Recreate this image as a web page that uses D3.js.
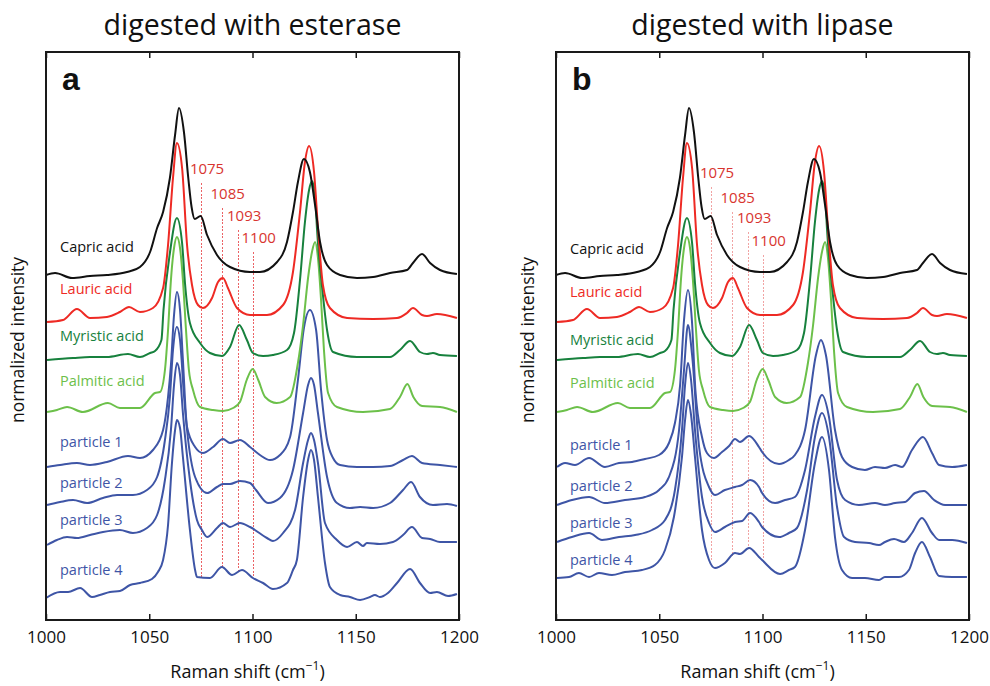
<!DOCTYPE html>
<html><head><meta charset="utf-8">
<script src="https://cdn.jsdelivr.net/npm/d3@7"></script>
<style>body{margin:0;background:#fff}svg text{font-family:'Open Sans',sans-serif}</style>
</head><body><svg id="c" width="990" height="686"></svg>
<script>
// ---------- data ----------
const xTicks = [1000, 1050, 1100, 1150, 1200];
const markerPositions = [1075, 1085, 1093, 1100];
const markerLabels = ["1075", "1085", "1093", "1100"];
const panelTitles = ["digested with esterase", "digested with lipase"];
const panelLetters = ["a", "b"];
const standardNames = ["Capric acid", "Lauric acid", "Myristic acid", "Palmitic acid"];
const particleNames = ["particle 1", "particle 2", "particle 3", "particle 4"];

// [Raman shift (cm-1), stacked normalized intensity]
const capric = [[1000,34.5],[1004.4,34.7],[1012.6,34.2],[1021.3,34.4],[1029.5,34.5],[1039.2,34.8],[1045.5,35.3],[1050.4,36.8],[1053.8,39.2],[1056.7,40.8],[1060,44.2],[1062.5,48.5],[1064.4,51.2],[1066.8,48.8],[1068.9,44.2],[1070.5,41.3],[1072,40.1],[1074.9,40.4],[1078,38.5],[1082.8,36.5],[1089.1,35.3],[1098.8,34.8],[1103.6,34.8],[1111.9,35.8],[1116.7,37.8],[1119.6,40.8],[1122,43.8],[1124.9,46.1],[1127.8,44.8],[1130.3,41.5],[1132.7,37.8],[1136.1,35.5],[1142.4,34.5],[1150.6,34.2],[1158.4,34.3],[1166.6,34.7],[1174.8,35.0],[1177.7,35.7],[1182.1,36.6],[1186,35.7],[1190.8,35.0],[1199,34.6]];
const lauric = [[1000.5,29.8],[1008.2,30.0],[1015,31.1],[1021.3,30.2],[1029.5,30.3],[1035.8,30.8],[1040.2,31.3],[1045.5,30.8],[1051.8,31.2],[1056.7,33.2],[1059.1,37.5],[1061.5,44.2],[1063.4,47.7],[1065.9,45.2],[1068.3,37.5],[1070.7,33.5],[1073.6,31.5],[1076,31.2],[1080.4,32.2],[1083.3,33.8],[1085.7,34.2],[1088.1,33.2],[1092.5,31.2],[1098.8,30.5],[1107,30.5],[1114.8,31.5],[1119.6,34.8],[1123,40.8],[1125.4,45.8],[1127.4,47.4],[1129.8,44.8],[1131.7,39.2],[1134.1,33.5],[1137.5,31.2],[1145.8,30.2],[1158.4,30.1],[1170,30.2],[1174.8,30.7],[1177.7,31.2],[1182.1,30.5],[1184.5,30.4],[1189.3,30.6],[1199,30.2]];
const myristic = [[1000.5,26.0],[1013.1,26.2],[1021.3,26.3],[1029.5,26.3],[1039.7,26.6],[1045.5,26.3],[1050.4,26.7],[1052.8,26.9],[1055.9,28.0],[1056.9,31.0],[1060,36.7],[1063.4,40.2],[1065.9,37.7],[1067.3,33.7],[1069.7,29.7],[1074.6,27.7],[1079.4,26.7],[1085.2,26.4],[1089.1,27.3],[1093.5,29.5],[1097.3,28.0],[1100.2,26.7],[1105.1,26.4],[1109.9,26.5],[1116.7,27.0],[1120.1,28.7],[1123,34.0],[1125.4,39.8],[1127.4,43.0],[1128.8,43.9],[1130.3,42.5],[1131.2,39.2],[1134.1,32.5],[1136.1,29.0],[1139,26.8],[1150.6,26.3],[1166.6,26.3],[1171.4,27.0],[1176.3,27.9],[1181.1,26.8],[1184.5,26.6],[1187.4,26.7],[1190.8,26.5],[1199,26.4]];
const palmitic = [[1000.5,20.8],[1005.3,21.0],[1010.2,21.3],[1017.9,20.8],[1030,21.7],[1035.8,21.2],[1045.5,21.2],[1052.8,22.7],[1055.2,22.8],[1057.6,25.0],[1059.1,29.0],[1060.5,34.0],[1062,37.2],[1063.4,38.3],[1064.9,37.2],[1066.3,34.0],[1067.8,29.0],[1069.2,25.0],[1071.2,23.0],[1074.6,21.3],[1080.9,21.0],[1085.7,20.9],[1090.6,21.2],[1093.9,21.8],[1097.2,24.0],[1100.1,25.1],[1102.8,24.0],[1106.1,22.3],[1111.7,21.7],[1118.2,22.3],[1122,25.7],[1124.5,29.5],[1126.9,34.2],[1128.8,36.8],[1130.3,37.8],[1131.7,36.2],[1133.2,32.0],[1134.6,27.0],[1136.6,22.7],[1140.9,21.3],[1153.5,20.8],[1166.6,21.1],[1171.4,22.3],[1175,23.6],[1177.9,22.3],[1182.1,21.4],[1190.8,21.3],[1199,20.8]];

const esteraseP1 = [[1000.5,15.3],[1006.8,15.5],[1015,15.7],[1021.3,15.5],[1029.5,15.8],[1039.7,16.4],[1045.5,16.2],[1051.8,17.0],[1056.7,19.0],[1059.1,22.3],[1060.5,25.5],[1062,30.5],[1063.4,32.8],[1064.9,31.0],[1066.3,26.0],[1068.3,19.3],[1072.2,17.3],[1076,16.7],[1080.9,17.3],[1085.7,18.1],[1089.1,17.7],[1093.9,18.0],[1098.8,17.3],[1103.6,16.5],[1108.5,16.0],[1113.3,16.5],[1118.2,18.3],[1122,24.0],[1124.9,29.2],[1127.8,31.0],[1130.8,29.0],[1133.2,23.0],[1136.1,18.0],[1139,16.2],[1142.4,15.5],[1150.6,15.3],[1158.4,15.3],[1166.6,15.4],[1172.9,16.0],[1177.2,16.4],[1182.1,15.7],[1190.8,15.5],[1199,15.3]];
const esteraseP2 = [[1000.5,11.5],[1006.8,11.8],[1013.1,12.0],[1019.9,11.7],[1027.6,12.2],[1034.4,12.5],[1042.1,12.5],[1048.9,13.0],[1053.8,14.3],[1057.6,18.0],[1060,22.3],[1061.5,27.0],[1063.4,29.3],[1064.9,28.0],[1066.8,22.5],[1068.3,19.0],[1072.2,14.3],[1078,12.7],[1082.8,13.3],[1085.7,13.6],[1089.1,13.6],[1093.9,13.9],[1098.8,13.7],[1101.7,13.0],[1107.5,11.7],[1113.3,12.2],[1119.6,15.0],[1124.5,20.7],[1126.9,23.5],[1128.3,24.2],[1129.8,23.5],[1131.7,20.7],[1136.1,14.3],[1140.9,11.7],[1147.2,11.2],[1152.1,11.3],[1158.4,11.2],[1166.6,11.7],[1172.9,13.0],[1176.8,13.8],[1181.1,12.3],[1187.4,11.5],[1194.2,11.6],[1199,11.4]];
const esteraseP3 = [[1000.5,7.5],[1005.3,8.0],[1010.2,8.3],[1015,8.2],[1021.3,8.5],[1027.6,8.8],[1035.8,9.0],[1042.1,8.7],[1048.9,9.2],[1053.8,10.5],[1057.6,14.0],[1060.5,19.0],[1062,23.5],[1063.4,25.7],[1064.9,24.5],[1066.3,20.7],[1069.7,14.0],[1073.1,10.0],[1075.5,9.0],[1078,8.3],[1082.8,9.2],[1085.7,9.7],[1089.1,9.3],[1093.9,9.7],[1098.8,9.3],[1107,8.2],[1109.9,7.9],[1114.8,8.7],[1120.6,11.0],[1124.5,15.7],[1126.9,18.0],[1128.3,18.7],[1129.8,18.0],[1131.7,15.7],[1135.1,9.7],[1140.9,8.0],[1145.8,7.3],[1150.6,7.8],[1153.5,7.4],[1155.4,7.7],[1161.7,7.6],[1168,7.8],[1172.9,8.5],[1177.2,9.3],[1182.1,8.2],[1186,8.1],[1190.8,7.8],[1199,7.8]];
const esteraseP4 = [[1000,2.2],[1006.8,2.8],[1010.7,2.8],[1016.5,3.2],[1022.3,2.3],[1026.1,2.5],[1031,2.8],[1035.8,2.9],[1040.7,3.5],[1045.5,3.7],[1051.3,4.1],[1054.2,4.8],[1056.7,6.0],[1059.1,9.5],[1061,15.7],[1062.5,19.0],[1063.4,20.0],[1064.9,19.2],[1066.3,16.3],[1069.7,9.0],[1072.2,5.0],[1073.1,4.3],[1079.4,4.2],[1085.2,5.3],[1090.1,4.5],[1094.9,5.0],[1100.2,4.2],[1105.1,3.7],[1109.9,3.1],[1116.7,3.7],[1119.6,5.0],[1121.5,6.0],[1124.5,12.3],[1126.9,16.0],[1128.3,17.0],[1129.8,16.0],[1131.7,12.3],[1135.1,5.7],[1137.5,3.3],[1142.4,2.5],[1147.2,2.3],[1152.1,2.0],[1156.9,2.3],[1159.3,2.5],[1161.7,2.3],[1165.6,2.7],[1170,3.7],[1176.3,5.1],[1181.1,3.7],[1186,2.7],[1189.3,2.8],[1194.7,2.4],[1199,2.6]];

const lipaseP1 = [[1000.5,15.3],[1004.4,15.7],[1009.2,15.5],[1016,16.2],[1023.7,15.3],[1030.5,15.7],[1036.8,15.8],[1043.1,16.1],[1049.9,16.5],[1054.7,17.7],[1057.6,19.7],[1060.1,23.5],[1062,30.0],[1063.9,33.0],[1065.8,30.0],[1067.5,23.0],[1070.7,18.3],[1073.1,16.7],[1076.5,16.2],[1080.4,16.8],[1083.8,17.4],[1086.7,18.1],[1089.1,17.8],[1093.5,18.4],[1098.3,17.3],[1099.8,16.8],[1108,15.6],[1112.8,16.0],[1115.7,16.5],[1120.6,19.0],[1125.9,26.5],[1128.3,28.0],[1130.7,26.5],[1135.1,19.0],[1138.5,16.3],[1143.4,15.3],[1149.6,15.0],[1154.5,15.3],[1159.3,15.2],[1164.2,15.5],[1167.6,15.3],[1172.4,17.0],[1177.7,18.3],[1182.1,16.7],[1185.5,15.5],[1191.8,15.3],[1199,15.5]];
const lipaseP2 = [[1000.5,11.5],[1007.7,12.0],[1016,12.3],[1023.7,11.7],[1033.4,12.0],[1043.1,12.3],[1049.9,13.0],[1054.7,14.3],[1059.6,19.0],[1062,25.0],[1063.9,29.5],[1065.9,26.5],[1069.3,17.3],[1074.1,13.3],[1077,12.5],[1081.8,13.0],[1086.7,13.3],[1090.1,13.5],[1094,14.0],[1098.3,13.3],[1099.8,12.7],[1106.1,11.7],[1110.9,12.0],[1115.7,12.3],[1120.6,15.0],[1125.4,20.3],[1128.8,22.5],[1132.2,20.3],[1136.1,14.0],[1140,12.0],[1146.7,11.5],[1154.5,11.7],[1159.3,11.5],[1164.2,11.7],[1169,11.8],[1173.9,12.7],[1178.2,12.9],[1183.1,12.0],[1188.4,11.5],[1199,11.5]];
const lipaseP3 = [[1000.5,7.8],[1007.7,8.3],[1016,8.7],[1022.3,8.0],[1030.5,8.3],[1038.3,8.5],[1046.5,9.0],[1052.8,10.0],[1057.6,13.0],[1061,19.0],[1062.5,23.5],[1063.9,25.7],[1065.4,24.0],[1067.3,19.0],[1070.7,12.3],[1074.1,9.7],[1077,8.8],[1081.8,9.3],[1086.7,9.8],[1090.1,9.9],[1094,10.7],[1098.3,9.8],[1099.8,9.3],[1108,8.3],[1112.8,8.7],[1116.7,9.2],[1121.6,13.0],[1125.4,18.3],[1128.8,20.7],[1132.2,18.3],[1136.1,11.3],[1139.5,8.3],[1144.8,7.8],[1151.6,7.7],[1156.4,7.5],[1159.3,7.8],[1163.7,8.1],[1168.5,7.8],[1172.4,8.7],[1177.2,10.2],[1182.1,8.7],[1185.5,8.0],[1191.8,8.0],[1199,7.7]];
const lipaseP4 = [[1000.5,4.2],[1006.3,4.3],[1011.1,4.7],[1016,4.3],[1020.8,4.7],[1027.1,4.5],[1033.4,4.8],[1041.6,5.0],[1047.9,5.5],[1052.8,7.0],[1057.1,10.3],[1061,16.3],[1062.5,20.0],[1063.9,22.0],[1065.4,20.5],[1067.3,16.3],[1070.7,9.0],[1074.1,6.0],[1077,5.2],[1081.8,5.7],[1086.7,6.7],[1089.1,6.6],[1093.5,7.2],[1098.3,6.3],[1099.8,6.0],[1108.5,4.6],[1112.8,5.0],[1115.7,5.3],[1120.6,9.0],[1125.4,15.7],[1128.8,18.3],[1132.2,15.0],[1135.1,8.3],[1138.5,5.0],[1143.4,4.2],[1149.6,4.2],[1156.4,4.0],[1159.3,4.3],[1166.1,4.3],[1170.9,5.0],[1173.9,6.7],[1177.2,7.8],[1181.1,6.3],[1185.5,4.4],[1191.8,4.3],[1199,4.3]];

// ---------- style / layout ----------
const standardColors = ["#111111", "#ee2a24", "#17813d", "#6cc04a"];
const particleColor = "#3e55a6";
const layout = [
  { x0: 46, x1: 459, particles: [esteraseP1, esteraseP2, esteraseP3, esteraseP4],
    labelY: [252, 294, 341, 386, 447, 488, 525, 575], markerTop: [183, 208, 230, 252],
    markerColor: "#e8474b", markerOpacity: 0.85 },
  { x0: 556, x1: 969, particles: [lipaseP1, lipaseP2, lipaseP3, lipaseP4],
    labelY: [254, 297, 345, 388, 450, 491, 528, 565], markerTop: [187, 212, 232, 255],
    markerColor: "#f09a9a", markerOpacity: 0.9 }
];
const plotTop = 52, plotBottom = 620;

const svg = d3.select("#c");
const y = d3.scaleLinear().domain([0, 56.8]).range([plotBottom, plotTop]);

function interp(arr, wn) {
  for (let i = 1; i < arr.length; i++) {
    if (arr[i][0] >= wn) {
      const a = arr[i - 1], b = arr[i];
      const t = (wn - a[0]) / (b[0] - a[0]);
      return a[1] + t * (b[1] - a[1]);
    }
  }
  return arr[arr.length - 1][1];
}

layout.forEach((P, pi) => {
  const x = d3.scaleLinear().domain([1000, 1200]).range([P.x0, P.x1]);
  const g = svg.append("g");
  const line = d3.line().x(d => x(d[0])).y(d => y(d[1])).curve(d3.curveMonotoneX);

  // marker lines
  markerPositions.forEach((m, i) => {
    const yEnd = y(interp(P.particles[3], m));
    g.append("line")
      .attr("x1", Math.round(x(m)) + 0.5).attr("x2", Math.round(x(m)) + 0.5)
      .attr("y1", P.markerTop[i]).attr("y2", yEnd)
      .attr("stroke", P.markerColor).attr("stroke-width", 1)
      .attr("shape-rendering", "crispEdges")
      .attr("stroke-dasharray", "2,1.5").attr("opacity", P.markerOpacity);
    g.append("text")
      .attr("x", x(m) - 11).attr("y", P.markerTop[i] - 9)
      .attr("font-size", 15).attr("fill", "#d8352f")
      .text(markerLabels[i]);
  });

  // spectra
  const series = [capric, lauric, myristic, palmitic].map((d, i) => ({ d, c: standardColors[i], name: standardNames[i] }))
    .concat(P.particles.map((d, i) => ({ d, c: particleColor, name: particleNames[i] })));
  series.slice().reverse().forEach(s => {
    g.append("path").datum(s.d).attr("d", line)
      .attr("fill", "none").attr("stroke", s.c).attr("stroke-width", 2)
      .attr("stroke-linejoin", "round");
  });
  series.forEach((s, i) => {
    g.append("text").attr("x", P.x0 + 14).attr("y", P.labelY[i])
      .attr("font-size", 14.5).attr("fill", s.c).text(s.name);
  });

  // frame
  g.append("rect").attr("x", P.x0).attr("y", plotTop)
    .attr("width", P.x1 - P.x0).attr("height", plotBottom - plotTop)
    .attr("fill", "none").attr("stroke", "#1a1a1a").attr("stroke-width", 2);

  const ax = g.append("g").attr("transform", `translate(0,${plotBottom})`)
    .call(d3.axisBottom(x).tickValues(xTicks).tickSize(-6).tickPadding(11).tickFormat(d3.format("d")));
  ax.select(".domain").remove();
  ax.selectAll("line").attr("stroke", "#1a1a1a").attr("stroke-width", 1.5);
  ax.selectAll("text").attr("font-size", 17).attr("fill", "#111").style("font-family", "'Open Sans',sans-serif");

  const axT = g.append("g").attr("transform", `translate(0,${plotTop})`)
    .call(d3.axisTop(x).tickValues(xTicks).tickSize(-6).tickFormat(""));
  axT.select(".domain").remove();
  axT.selectAll("line").attr("stroke", "#1a1a1a").attr("stroke-width", 1.5);

  const cx = (P.x0 + P.x1) / 2;
  g.append("text").attr("x", cx).attr("y", 35).attr("text-anchor", "middle")
    .attr("font-size", 28.5).attr("fill", "#111").text(panelTitles[pi]);
  g.append("text").attr("x", P.x0 + 16).attr("y", 90)
    .style("font-family", "'Liberation Sans',Arial,sans-serif")
    .attr("font-weight", "bold").attr("font-size", 32).attr("fill", "#111").text(panelLetters[pi]);

  const xl = g.append("text").attr("x", cx - 5).attr("y", 678).attr("text-anchor", "middle")
    .attr("font-size", 18).attr("fill", "#111");
  xl.append("tspan").text("Raman shift (cm");
  xl.append("tspan").attr("dy", -8).attr("font-size", 12).text("\u22121");
  xl.append("tspan").attr("dy", 8).text(")");

  g.append("text").attr("transform", `translate(${P.x0 - 22},340) rotate(-90)`)
    .attr("text-anchor", "middle").attr("font-size", 17.5).attr("fill", "#111")
    .text("normalized intensity");
});
</script></body></html>
